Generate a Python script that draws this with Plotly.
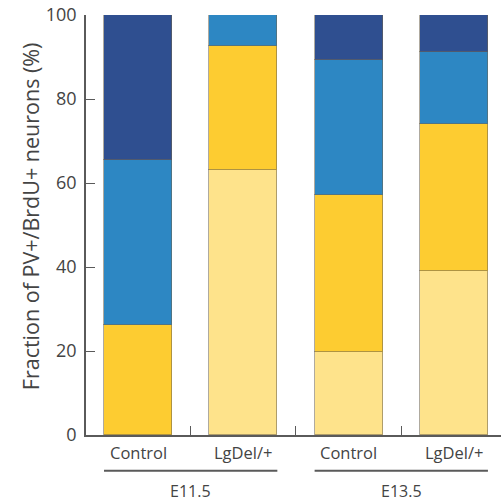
import plotly.graph_objects as go

categories = ["Control", "LgDel/+", "Control", "LgDel/+"]
groups = ["E11.5", "E13.5"]
group_members = [[0, 1], [2, 3]]
positions = [0, 1, 2, 3]

light_yellow = [0, 63.1, 19.7, 39.1]
yellow = [26.2, 29.6, 37.4, 34.9]
blue = [39.2, 7.3, 32.2, 17.3]
dark_blue = [34.6, 0, 10.7, 8.7]

series = [
    ("light", light_yellow, "#FEE38B"),
    ("yellow", yellow, "#FDCC31"),
    ("blue", blue, "#2D87C3"),
    ("dark", dark_blue, "#2F4F90"),
]

BW = 0.646
fig = go.Figure()
for name, vals, col in series:
    fig.add_trace(go.Bar(
        x=positions, y=vals, name=name, width=BW,
        marker=dict(color=col, line=dict(color="rgba(110,100,80,0.55)", width=1)),
        showlegend=False, hoverinfo="skip",
    ))

font_fam = "Open Sans, Noto Sans, sans-serif"
txt = "#444444"
axcol = "#5a5a5a"

annotations = []
for p, c in zip(positions, categories):
    annotations.append(dict(x=p, y=0, xref="x", yref="paper", text=c, showarrow=False,
                            yanchor="top", yshift=-4, font=dict(size=16.5, color=txt, family=font_fam)))
shapes = []
for g, mem in zip(groups, group_members):
    x0 = positions[mem[0]] - BW / 2
    x1 = positions[mem[-1]] + BW / 2
    shapes.append(dict(type="line", xref="x", yref="paper", x0=x0, x1=x1, y0=-0.085, y1=-0.085,
                       line=dict(color=axcol, width=2)))
    annotations.append(dict(x=(x0 + x1) / 2, y=0, xref="x", yref="paper", text=g, showarrow=False,
                            yanchor="middle", yshift=-56, font=dict(size=16, color=txt, family=font_fam)))

annotations.append(dict(x=0, y=0.521, xref="paper", yref="paper", xanchor="center", yanchor="middle",
                        xshift=-56, textangle=-90, showarrow=False,
                        text="Fraction of PV+/BrdU+ neurons (%)",
                        font=dict(size=21.5, color=txt, family=font_fam)))

fig.update_layout(
    barmode="stack",
    width=501, height=502,
    margin=dict(l=86, r=0, t=15, b=67),
    paper_bgcolor="white", plot_bgcolor="white",
    bargap=0,
    annotations=annotations,
    shapes=shapes,
    font=dict(family=font_fam, color=txt),
)
fig.update_xaxes(
    range=[-0.494, 3.447], tickvals=[0.5, 1.5, 2.5], ticktext=["", "", ""],
    ticks="inside", ticklen=9, tickwidth=1.2, tickcolor=axcol,
    showline=True, linecolor=axcol, linewidth=1.5, showgrid=False, zeroline=False,
)
fig.update_yaxes(
    range=[0, 100], tickvals=[0, 20, 40, 60, 80, 100],
    ticks="inside", ticklen=9, tickwidth=1.2, tickcolor=axcol,
    showline=True, linecolor=axcol, linewidth=1.5, showgrid=False, zeroline=False,
    tickfont=dict(size=18, color=txt, family=font_fam), ticklabelstandoff=4,
    ticklabeloverflow="allow",
)
fig.write_html("out.html", config={"displayModeBar": False},
               post_script="document.body.style.margin='0';document.body.style.overflow='hidden';")
